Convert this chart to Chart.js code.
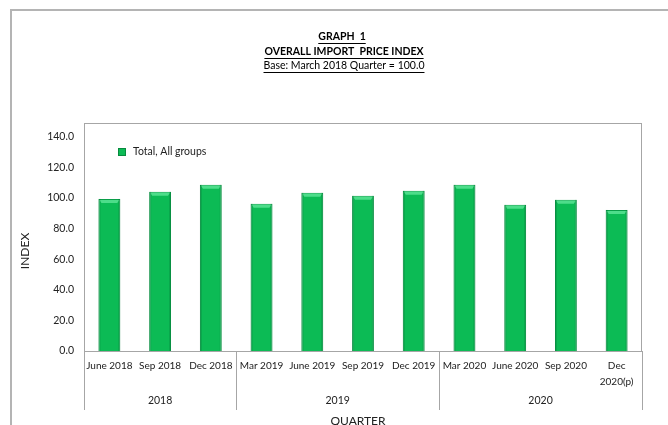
<!DOCTYPE html>
<html>
<head>
<meta charset="utf-8">
<script src="https://cdn.jsdelivr.net/npm/chart.js@4.4.1/dist/chart.umd.min.js"></script>
<style>
html, body { margin: 0; padding: 0; background: #fff; }
</style>
</head>
<body>
<canvas id="graph" width="668" height="425"></canvas>
<script>
// quarter labels (last one is two lines in the original)
const quarters = ['June 2018', 'Sep 2018', 'Dec 2018', 'Mar 2019', 'June 2019', 'Sep 2019',
    'Dec 2019', 'Mar 2020', 'June 2020', 'Sep 2020', ['Dec', '2020(p)']];
const totalIndex = [99.4, 104.0, 108.6, 96.2, 103.4, 101.4, 104.7, 108.6, 95.5, 98.8, 92.2];
const years = ['2018', '2019', '2020'];
const quartersPerYear = [3, 4, 4];
const titleLines = ['GRAPH  1', 'OVERALL IMPORT  PRICE INDEX', 'Base: March 2018 Quarter = 100.0'];

const FONT = 'Lato, "Liberation Sans", sans-serif';
const GREEN = '#0cbb55';

function underlined(ctx, text, x, y, bold)
{
    ctx.font = (bold ? 'bold ' : '') + '10.5px ' + FONT;
    ctx.textAlign = 'center';
    ctx.textBaseline = 'middle';
    ctx.fillText(text, x, y);
    const w = ctx.measureText(text).width;
    ctx.fillRect(x - w / 2, y + 6, w, 1);
}

const decorations = {
    id: 'decorations',
    beforeDraw(chart)
    {
        const ctx = chart.ctx;
        ctx.save();
        // outer chart frame, cut off at right and bottom
        ctx.strokeStyle = '#b4b4b4';
        ctx.lineWidth = 2;
        ctx.beginPath();
        ctx.moveTo(11, 440);
        ctx.lineTo(11, 10);
        ctx.lineTo(680, 10);
        ctx.stroke();
        ctx.restore();
    },
    afterDatasetsDraw(chart)
    {
        // bevelled cap on each bar
        const ctx = chart.ctx;
        const meta = chart.getDatasetMeta(0);
        ctx.save();
        meta.data.forEach(bar => {
            const l = bar.x - bar.width / 2;
            const r = bar.x + bar.width / 2;
            const t = bar.y;
            ctx.fillStyle = '#4ddd8a';
            ctx.beginPath();
            ctx.moveTo(l + 1, t + 1);
            ctx.lineTo(r - 1, t + 1);
            ctx.lineTo(r - 3, t + 4);
            ctx.lineTo(l + 3, t + 4);
            ctx.closePath();
            ctx.fill();
            ctx.fillStyle = 'rgba(0,90,40,0.2)';
            ctx.fillRect(l, t, 2, bar.base - t);
            ctx.fillRect(r - 2, t, 2, bar.base - t);
        });
        ctx.restore();
    },
    afterDraw(chart)
    {
        const ctx = chart.ctx;
        const area = chart.chartArea;
        const xs = chart.scales.x;
        ctx.save();

        // plot area box
        ctx.strokeStyle = '#a6a6a6';
        ctx.lineWidth = 1;
        ctx.strokeRect(area.left + 0.5, area.top + 0.5, area.right - area.left - 1, area.bottom - area.top);

        // year group separators and labels
        const step = xs.getPixelForValue(1) - xs.getPixelForValue(0);
        let start = 0;
        const edges = [area.left];
        ctx.fillStyle = '#222';
        ctx.font = '10.5px ' + FONT;
        ctx.textAlign = 'center';
        ctx.textBaseline = 'middle';
        years.forEach((yr, i) => {
            const end = start + quartersPerYear[i] - 1;
            const x0 = xs.getPixelForValue(start) - step / 2;
            const x1 = xs.getPixelForValue(end) + step / 2;
            edges.push(x1);
            ctx.fillText(yr, (x0 + x1) / 2, 401);
            start = end + 1;
        });
        ctx.beginPath();
        edges.forEach(x => {
            const px = Math.round(x) + 0.5;
            ctx.moveTo(px, area.bottom);
            ctx.lineTo(px, 410);
        });
        ctx.stroke();

        // axis titles
        ctx.font = '12px ' + FONT;
        ctx.fillText('QUARTER', 358, 421);
        ctx.save();
        ctx.translate(25, 251);
        ctx.rotate(-Math.PI / 2);
        ctx.fillText('INDEX', 0, 0);
        ctx.restore();

        // titles
        ctx.fillStyle = '#000';
        underlined(ctx, titleLines[0], 342, 37, true);
        underlined(ctx, titleLines[1], 344, 52, true);
        underlined(ctx, titleLines[2], 344, 66, false);

        // legend inside plot
        const ds = chart.data.datasets[0];
        ctx.fillStyle = GREEN;
        ctx.fillRect(118, 148, 8, 8);
        ctx.strokeStyle = '#078a3e';
        ctx.strokeRect(118.5, 148.5, 7, 7);
        ctx.fillStyle = '#222';
        ctx.font = '10.5px ' + FONT;
        ctx.textAlign = 'left';
        ctx.fillText(ds.label, 133, 152);

        ctx.restore();
    }
};

new Chart(document.querySelector('#graph'),
{
    type: 'bar',
    data:
    {
        labels: quarters,
        datasets:
        [
            {
                label: 'Total, All groups',
                data: totalIndex,
                backgroundColor: GREEN,
                borderColor: '#0a9e49',
                borderWidth: 1,
                categoryPercentage: 1,
                barPercentage: 0.43
            }
        ]
    },
    options:
    {
        responsive: false,
        animation: false,
        layout: {padding: {top: 123, right: 26, bottom: 0, left: 0}},
        plugins:
        {
            legend: {display: false},
            title: {display: false},
            tooltip: {enabled: false}
        },
        scales:
        {
            x:
            {
                grid: {display: false, drawTicks: false},
                border: {display: false},
                ticks:
                {
                    color: '#222',
                    font: {family: FONT, size: 10, lineHeight: 1.6},
                    padding: 7,
                    maxRotation: 0,
                    minRotation: 0,
                    autoSkip: false
                },
                afterFit(scale) { scale.height = 74; }
            },
            y:
            {
                min: 0,
                max: 149,
                grid: {display: false, drawTicks: false},
                border: {display: false},
                ticks:
                {
                    stepSize: 20,
                    color: '#222',
                    font: {family: FONT, size: 10.5},
                    padding: 10,
                    callback: v => (v % 20 === 0 ? v.toFixed(1) : '')
                },
                afterFit(scale) { scale.width = 84; }
            }
        }
    },
    plugins: [decorations]
});
</script>
</body>
</html>
